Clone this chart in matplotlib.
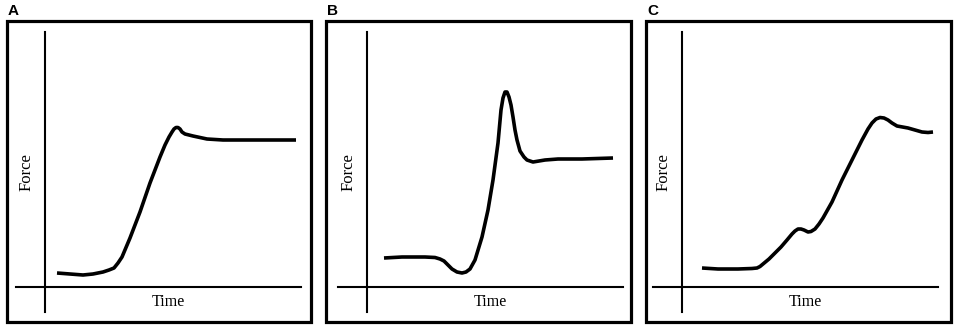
import matplotlib
matplotlib.use("Agg")
import matplotlib.pyplot as plt
from matplotlib.patches import Rectangle

# force traces (time, force in arbitrary units)
time_a = [12, 25, 38, 48, 58, 64, 69, 73, 77, 85, 95, 105, 115, 120, 124, 127, 129, 131, 133, 135,
          137, 140, 148, 162, 178, 205, 251]
force_a = [14, 13, 12, 13, 15, 17, 19, 24, 30, 49, 75, 104, 130, 142, 150, 155, 158, 159.5, 159.5, 158,
           155, 153, 151, 148, 147, 147, 147]

time_b = [17, 35, 58, 68, 73, 77, 81, 85, 90, 95, 99, 103, 108, 115, 121, 126, 131, 134, 136, 138,
          140, 142, 144, 146, 148, 150, 153, 157, 160, 166, 178, 191, 215, 246]
force_b = [29, 30, 30, 29.5, 28, 26, 22, 18, 15, 14, 15, 18, 27, 50, 77, 107, 144, 177, 189, 195,
           195, 190, 182, 170, 157, 147, 136, 130, 127, 125, 127, 128, 128, 129]

time_c = [20, 36, 56, 70, 75, 78, 81, 87, 93, 99, 105, 110, 113, 116, 119, 122, 126, 129, 133, 137,
          141, 150, 160, 170, 180, 186, 190, 194, 198, 202, 206, 210, 215, 226, 240, 246, 251]
force_c = [19, 18, 18, 18.5, 19, 20.5, 23, 28, 34, 40, 47, 53, 56, 58, 58, 57, 55, 55.5, 58, 63,
           69, 85, 107, 127, 147, 158, 164, 168, 169.5, 169, 167, 164, 161, 159, 155, 154.5, 155]

panels = ["A", "B", "C"]
W, H = 957, 331

fig = plt.figure(figsize=(W / 100, H / 100), dpi=100)

# pixel layout of each panel: box left, box right, inner axes left
box_left = [7, 326, 646]
box_right = [311, 631, 951]
inner_left = [16, 338, 653]

traces = [(time_a, force_a), (time_b, force_b), (time_c, force_c)]

for i, (t, f) in enumerate(traces):
    # outer frame
    fig.patches.append(Rectangle((box_left[i] / W, (H - 322) / H),
                                 (box_right[i] - box_left[i]) / W, (322 - 21) / H,
                                 transform=fig.transFigure, fill=False,
                                 edgecolor="black", linewidth=2.3))
    fig.text((box_left[i] + 1) / W, 1 - 4 / H, panels[i], ha="left", va="top",
             fontsize=11, fontweight="bold", family="Liberation Sans")

    ax = fig.add_axes([inner_left[i] / W, (H - 312) / H, 285 / W, 280 / H])
    ax.set_xlim(-29, 256)
    ax.set_ylim(-25, 255)
    ax.patch.set_alpha(0)
    for s in ["top", "right"]:
        ax.spines[s].set_visible(False)
    for s in ["left", "bottom"]:
        ax.spines[s].set_position(("data", 0))
        ax.spines[s].set_linewidth(1.5)
    ax.set_xticks([])
    ax.set_yticks([])

    ax.plot(t, f, color="black", linewidth=2.6, solid_capstyle="butt", solid_joinstyle="round")

    ax.text(123, -15, "Time", ha="center", va="center", fontsize=11.5, family="Liberation Serif")
    ax.text(-18, 115, "Force", ha="center", va="center", rotation=90, fontsize=12,
            family="Liberation Serif")

fig.savefig("out.png", dpi=100)
